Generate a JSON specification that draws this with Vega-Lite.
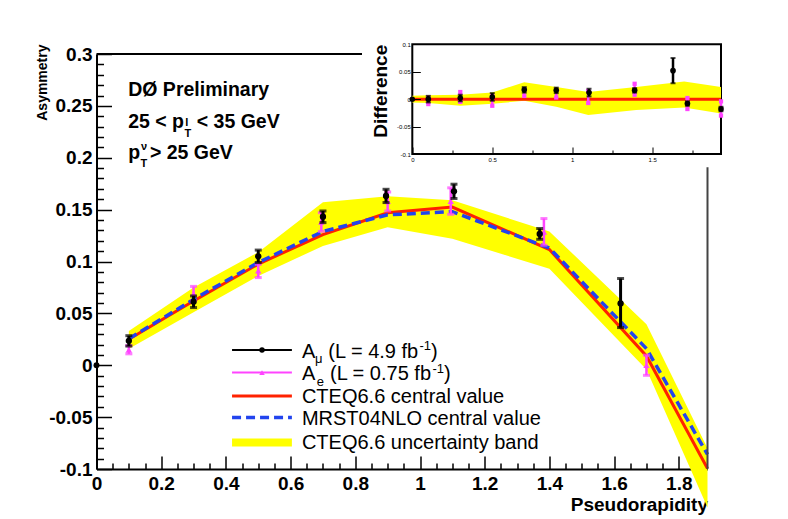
{
  "$schema": "https://vega.github.io/schema/vega-lite/v6.json",
  "background": "white",
  "autosize": "none",
  "padding": {"left": 96.5, "top": 54, "right": 80.5, "bottom": 50},
  "width": 611,
  "height": 415,
  "config": {"view": {"stroke": null}, "font": "Liberation Sans", "axis": {"grid": false}},
  "datasets": {
    "theory": [
      {"x": 0.1, "cteq": 0.025, "mrst": 0.0255, "lo": 0.016, "hi": 0.033},
      {"x": 0.3, "cteq": 0.062, "mrst": 0.0635, "lo": 0.051, "hi": 0.075},
      {"x": 0.5, "cteq": 0.0975, "mrst": 0.099, "lo": 0.086, "hi": 0.109},
      {"x": 0.7, "cteq": 0.126, "mrst": 0.129, "lo": 0.115, "hi": 0.157},
      {"x": 0.9, "cteq": 0.147, "mrst": 0.145, "lo": 0.133, "hi": 0.163},
      {"x": 1.1, "cteq": 0.1525, "mrst": 0.148, "lo": 0.122, "hi": 0.159},
      {"x": 1.4, "cteq": 0.1115, "mrst": 0.113, "lo": 0.093, "hi": 0.129},
      {"x": 1.7, "cteq": 0.009, "mrst": 0.016, "lo": -0.004, "hi": 0.0395},
      {"x": 1.8887, "cteq": -0.0995, "mrst": -0.086, "lo": -0.137, "hi": -0.08}
    ],
    "mu": [
      {"x": 0.1, "y": 0.0235, "lo": 0.0185, "hi": 0.0285},
      {"x": 0.3, "y": 0.0612, "lo": 0.0556, "hi": 0.0668},
      {"x": 0.5, "y": 0.105, "lo": 0.099, "hi": 0.111},
      {"x": 0.7, "y": 0.1431, "lo": 0.1375, "hi": 0.1487},
      {"x": 0.895, "y": 0.1632, "lo": 0.1568, "hi": 0.1696},
      {"x": 1.105, "y": 0.1676, "lo": 0.1607, "hi": 0.1745},
      {"x": 1.37, "y": 0.1266, "lo": 0.1214, "hi": 0.1318},
      {"x": 1.62, "y": 0.0595, "lo": 0.0363, "hi": 0.0836}
    ],
    "e": [
      {"x": 0.1, "y": 0.015, "lo": 0.011, "hi": 0.019},
      {"x": 0.3, "y": 0.069, "lo": 0.062, "hi": 0.076},
      {"x": 0.5, "y": 0.091, "lo": 0.0845, "hi": 0.0973},
      {"x": 0.695, "y": 0.138, "lo": 0.129, "hi": 0.147},
      {"x": 0.9, "y": 0.158, "lo": 0.1487, "hi": 0.167},
      {"x": 1.095, "y": 0.158, "lo": 0.1455, "hi": 0.171},
      {"x": 1.383, "y": 0.1285, "lo": 0.1157, "hi": 0.1414},
      {"x": 1.7, "y": 0.0, "lo": -0.0097, "hi": 0.0097}
    ],
    "dband": [
      {"x": 0, "lo": -0.006, "hi": 0.006},
      {"x": 0.1, "lo": -0.007, "hi": 0.007},
      {"x": 0.3, "lo": -0.012, "hi": 0.008},
      {"x": 0.5, "lo": -0.0085, "hi": 0.012},
      {"x": 0.7, "lo": -0.003, "hi": 0.031},
      {"x": 0.9, "lo": -0.014, "hi": 0.022},
      {"x": 1.1, "lo": -0.029, "hi": 0.013},
      {"x": 1.4, "lo": -0.02, "hi": 0.022},
      {"x": 1.7, "lo": -0.015, "hi": 0.032},
      {"x": 1.93, "lo": -0.026, "hi": 0.022}
    ],
    "dmu": [
      {"x": 0.1, "y": 0.0, "lo": -0.006, "hi": 0.006},
      {"x": 0.3, "y": 0.002, "lo": -0.004, "hi": 0.008},
      {"x": 0.5, "y": 0.004, "lo": -0.003, "hi": 0.011},
      {"x": 0.7, "y": 0.017, "lo": 0.012, "hi": 0.022},
      {"x": 0.9, "y": 0.016, "lo": 0.011, "hi": 0.021},
      {"x": 1.105, "y": 0.012, "lo": 0.005, "hi": 0.019},
      {"x": 1.39, "y": 0.016, "lo": 0.012, "hi": 0.02},
      {"x": 1.63, "y": 0.052, "lo": 0.029, "hi": 0.075},
      {"x": 1.72, "y": -0.008, "lo": -0.012, "hi": -0.004},
      {"x": 1.93, "y": -0.018, "lo": -0.022, "hi": -0.014}
    ],
    "de": [
      {"x": 0.1, "y": -0.003, "lo": -0.009, "hi": 0.003},
      {"x": 0.3, "y": 0.004, "lo": -0.005, "hi": 0.013},
      {"x": 0.5, "y": -0.003, "lo": -0.012, "hi": 0.006},
      {"x": 0.7, "y": 0.012, "lo": 0.006, "hi": 0.018},
      {"x": 0.9, "y": 0.01, "lo": 0.003, "hi": 0.017},
      {"x": 1.1, "y": 0.004, "lo": -0.007, "hi": 0.015},
      {"x": 1.39, "y": 0.018, "lo": 0.008, "hi": 0.028},
      {"x": 1.72, "y": -0.008, "lo": -0.018, "hi": 0.002},
      {"x": 1.93, "y": -0.017, "lo": -0.03, "hi": -0.004}
    ]
  },
  "resolve": {"scale": {"x": "independent", "y": "independent"}, "axis": {"x": "independent", "y": "independent"}},
  "layer": [
    {
      "layer": [
        {
          "data": {"name": "theory"},
          "mark": {"type": "area", "color": "#ffff00", "opacity": 1},
          "encoding": {
            "x": {
              "field": "x", "type": "quantitative",
              "scale": {"domain": [0, 1.8887], "nice": false, "zero": false},
              "axis": {
                "orient": "bottom",
                "title": "Pseudorapidity",
                "titleFont": "Liberation Sans", "titleFontSize": 19, "titleFontWeight": "bold", "titleColor": "black",
                "titleAnchor": "end", "titleAlign": "right", "titlePadding": 2,
                "values": [0, 0.2, 0.4, 0.6, 0.8, 1, 1.2, 1.4, 1.6, 1.8],
                "tickSize": -13, "tickColor": "black", "tickWidth": 1.5,
                "labelExpr": "format(datum.value, '~g')",
                "labelFont": "Liberation Sans", "labelFontSize": 19, "labelFontWeight": "bold", "labelColor": "black",
                "labelPadding": 18, "labelOverlap": false, "labelFlush": false,
                "domainColor": "black", "domainWidth": 2, "grid": false
              }
            },
            "y": {
              "field": "lo", "type": "quantitative",
              "scale": {"domain": [-0.1, 0.3], "nice": false, "zero": false},
              "axis": {
                "orient": "left",
                "title": "Asymmetry",
                "titleFont": "Liberation Sans", "titleFontSize": 14, "titleFontWeight": "bold", "titleColor": "black",
                "titleAngle": -90, "titleAlign": "right", "titleBaseline": "alphabetic",
                "titleX": -50, "titleY": -10,
                "values": [-0.1, -0.05, 0, 0.05, 0.1, 0.15, 0.2, 0.25, 0.3],
                "tickSize": -15, "tickColor": "black", "tickWidth": 1.5,
                "labelExpr": "replace(format(datum.value, '~g'), '\u2212', '-')",
                "labelFont": "Liberation Sans", "labelFontSize": 19, "labelFontWeight": "bold", "labelColor": "black",
                "labelPadding": 19.5, "labelOverlap": false, "labelFlush": false, "labelBaseline": "middle",
                "domainColor": "black", "domainWidth": 2, "grid": false
              }
            },
            "y2": {"field": "hi"}
          }
        },
        {
          "data": {"name": "theory"},
          "mark": {"type": "line", "color": "#ff2200", "strokeWidth": 3},
          "encoding": {"x": {"field": "x", "type": "quantitative"}, "y": {"field": "cteq", "type": "quantitative"}}
        },
        {
          "data": {"name": "theory"},
          "mark": {"type": "line", "color": "#2244ee", "strokeWidth": 3.5, "strokeDash": [9, 5]},
          "encoding": {"x": {"field": "x", "type": "quantitative"}, "y": {"field": "mrst", "type": "quantitative"}}
        },
        {
          "data": {"name": "e"},
          "mark": {"type": "rule", "color": "#ff44ff", "strokeWidth": 2.5},
          "encoding": {"x": {"field": "x", "type": "quantitative"}, "y": {"field": "lo", "type": "quantitative"}, "y2": {"field": "hi"}}
        },
        {
          "data": {"name": "e"},
          "mark": {"type": "tick", "orient": "horizontal", "color": "#ff44ff", "size": 7, "thickness": 3},
          "encoding": {"x": {"field": "x", "type": "quantitative"}, "y": {"field": "lo", "type": "quantitative"}}
        },
        {
          "data": {"name": "e"},
          "mark": {"type": "tick", "orient": "horizontal", "color": "#ff44ff", "size": 7, "thickness": 3},
          "encoding": {"x": {"field": "x", "type": "quantitative"}, "y": {"field": "hi", "type": "quantitative"}}
        },
        {
          "data": {"name": "e"},
          "mark": {"type": "point", "shape": "triangle-up", "filled": true, "color": "#ff44ff", "size": 40, "opacity": 1},
          "encoding": {"x": {"field": "x", "type": "quantitative"}, "y": {"field": "y", "type": "quantitative"}}
        },
        {
          "data": {"name": "mu"},
          "mark": {"type": "rule", "color": "black", "strokeWidth": 3},
          "encoding": {"x": {"field": "x", "type": "quantitative"}, "y": {"field": "lo", "type": "quantitative"}, "y2": {"field": "hi"}}
        },
        {
          "data": {"name": "mu"},
          "mark": {"type": "tick", "orient": "horizontal", "color": "black", "size": 7, "thickness": 3},
          "encoding": {"x": {"field": "x", "type": "quantitative"}, "y": {"field": "lo", "type": "quantitative"}}
        },
        {
          "data": {"name": "mu"},
          "mark": {"type": "tick", "orient": "horizontal", "color": "black", "size": 7, "thickness": 3},
          "encoding": {"x": {"field": "x", "type": "quantitative"}, "y": {"field": "hi", "type": "quantitative"}}
        },
        {
          "data": {"name": "mu"},
          "mark": {"type": "point", "shape": "circle", "filled": true, "color": "black", "size": 40, "opacity": 1},
          "encoding": {"x": {"field": "x", "type": "quantitative"}, "y": {"field": "y", "type": "quantitative"}}
        },
        {
          "data": {"values": [{"x": 0, "y": 0}]},
          "mark": {"type": "point", "shape": "circle", "filled": true, "color": "black", "size": 35, "opacity": 1},
          "encoding": {"x": {"field": "x", "type": "quantitative"}, "y": {"field": "y", "type": "quantitative"}}
        },
        {
          "data": {"values": [{}]},
          "mark": {"type": "rule", "color": "black", "strokeWidth": 2},
          "encoding": {"x": {"datum": 0}, "x2": {"datum": 0.8207}, "y": {"datum": 0.3}}
        },
        {
          "data": {"values": [{}]},
          "mark": {"type": "rule", "color": "#444444", "strokeWidth": 2},
          "encoding": {"x": {"datum": 1.8887}, "y": {"datum": -0.1}, "y2": {"datum": 0.1908}}
        },
        {
          "data": {"values": [{}]},
          "mark": {"type": "text", "text": "DØ Preliminary", "align": "left", "baseline": "alphabetic", "fontSize": 19.5, "fontWeight": "bold", "color": "black"},
          "encoding": {"x": {"datum": 0.098}, "y": {"datum": 0.26}}
        },
        {
          "data": {"values": [{}]},
          "mark": {"type": "text", "text": "25 < p", "align": "left", "baseline": "alphabetic", "fontSize": 19.5, "fontWeight": "bold", "color": "black"},
          "encoding": {"x": {"datum": 0.098}, "y": {"datum": 0.2291}}
        },
        {
          "data": {"values": [{}]},
          "mark": {"type": "text", "text": "T", "align": "left", "baseline": "alphabetic", "fontSize": 11, "fontWeight": "bold", "color": "black"},
          "encoding": {"x": {"datum": 0.272}, "y": {"datum": 0.2204}}
        },
        {
          "data": {"values": [{}]},
          "mark": {"type": "text", "text": "l", "align": "left", "baseline": "alphabetic", "fontSize": 11, "fontWeight": "bold", "color": "black"},
          "encoding": {"x": {"datum": 0.2745}, "y": {"datum": 0.2304}}
        },
        {
          "data": {"values": [{}]},
          "mark": {"type": "text", "text": "< 35 GeV", "align": "left", "baseline": "alphabetic", "fontSize": 19.5, "fontWeight": "bold", "color": "black"},
          "encoding": {"x": {"datum": 0.31}, "y": {"datum": 0.2291}}
        },
        {
          "data": {"values": [{}]},
          "mark": {"type": "text", "text": "p", "align": "left", "baseline": "alphabetic", "fontSize": 19.5, "fontWeight": "bold", "color": "black"},
          "encoding": {"x": {"datum": 0.098}, "y": {"datum": 0.1992}}
        },
        {
          "data": {"values": [{}]},
          "mark": {"type": "text", "text": "T", "align": "left", "baseline": "alphabetic", "fontSize": 11, "fontWeight": "bold", "color": "black"},
          "encoding": {"x": {"datum": 0.136}, "y": {"datum": 0.1908}}
        },
        {
          "data": {"values": [{}]},
          "mark": {"type": "text", "text": "ν", "align": "left", "baseline": "alphabetic", "fontSize": 11, "fontWeight": "bold", "color": "black"},
          "encoding": {"x": {"datum": 0.1376}, "y": {"datum": 0.2072}}
        },
        {
          "data": {"values": [{}]},
          "mark": {"type": "text", "text": "> 25 GeV", "align": "left", "baseline": "alphabetic", "fontSize": 19.5, "fontWeight": "bold", "color": "black"},
          "encoding": {"x": {"datum": 0.165}, "y": {"datum": 0.1992}}
        },
        {
          "data": {"values": [{}]},
          "mark": {"type": "rule", "color": "black", "strokeWidth": 2},
          "encoding": {"x": {"datum": 0.419}, "x2": {"datum": 0.604}, "y": {"datum": 0.01475}}
        },
        {
          "data": {"values": [{}]},
          "mark": {"type": "point", "shape": "circle", "filled": true, "color": "black", "size": 30, "opacity": 1},
          "encoding": {"x": {"datum": 0.5116}, "y": {"datum": 0.01475}}
        },
        {
          "data": {"values": [{}]},
          "mark": {"type": "rule", "color": "#ff44ff", "strokeWidth": 2},
          "encoding": {"x": {"datum": 0.419}, "x2": {"datum": 0.604}, "y": {"datum": -0.00704}}
        },
        {
          "data": {"values": [{}]},
          "mark": {"type": "point", "shape": "triangle-up", "filled": true, "color": "#ff44ff", "size": 30, "opacity": 1},
          "encoding": {"x": {"datum": 0.5116}, "y": {"datum": -0.00704}}
        },
        {
          "data": {"values": [{}]},
          "mark": {"type": "rule", "color": "#ff2200", "strokeWidth": 3},
          "encoding": {"x": {"datum": 0.419}, "x2": {"datum": 0.604}, "y": {"datum": -0.0296}}
        },
        {
          "data": {"values": [{}]},
          "mark": {"type": "rule", "color": "#2244ee", "strokeWidth": 3.5, "strokeDash": [9, 5]},
          "encoding": {"x": {"datum": 0.419}, "x2": {"datum": 0.604}, "y": {"datum": -0.0504}}
        },
        {
          "data": {"values": [{}]},
          "mark": {"type": "rule", "color": "#ffff00", "strokeWidth": 8},
          "encoding": {"x": {"datum": 0.419}, "x2": {"datum": 0.604}, "y": {"datum": -0.0745}}
        },
        {
          "data": {"values": [{}]},
          "mark": {"type": "text", "text": "A", "align": "left", "baseline": "alphabetic", "fontSize": 20, "color": "black"},
          "encoding": {"x": {"datum": 0.635}, "y": {"datum": 0.0074}}
        },
        {
          "data": {"values": [{}]},
          "mark": {"type": "text", "text": "μ", "align": "left", "baseline": "alphabetic", "fontSize": 13, "color": "black"},
          "encoding": {"x": {"datum": 0.6754}, "y": {"datum": 0.002}}
        },
        {
          "data": {"values": [{}]},
          "mark": {"type": "text", "text": "(L = 4.9 fb", "align": "left", "baseline": "alphabetic", "fontSize": 20, "color": "black"},
          "encoding": {"x": {"datum": 0.7166}, "y": {"datum": 0.0074}}
        },
        {
          "data": {"values": [{}]},
          "mark": {"type": "text", "text": "-1", "align": "left", "baseline": "alphabetic", "fontSize": 13, "color": "black"},
          "encoding": {"x": {"datum": 0.9985}, "y": {"datum": 0.0145}}
        },
        {
          "data": {"values": [{}]},
          "mark": {"type": "text", "text": ")", "align": "left", "baseline": "alphabetic", "fontSize": 20, "color": "black"},
          "encoding": {"x": {"datum": 1.034}, "y": {"datum": 0.0074}}
        },
        {
          "data": {"values": [{}]},
          "mark": {"type": "text", "text": "A", "align": "left", "baseline": "alphabetic", "fontSize": 20, "color": "black"},
          "encoding": {"x": {"datum": 0.635}, "y": {"datum": -0.01446}}
        },
        {
          "data": {"values": [{}]},
          "mark": {"type": "text", "text": "e", "align": "left", "baseline": "alphabetic", "fontSize": 13, "color": "black"},
          "encoding": {"x": {"datum": 0.6807}, "y": {"datum": -0.0202}}
        },
        {
          "data": {"values": [{}]},
          "mark": {"type": "text", "text": "(L = 0.75 fb", "align": "left", "baseline": "alphabetic", "fontSize": 20, "color": "black"},
          "encoding": {"x": {"datum": 0.7218}, "y": {"datum": -0.01446}}
        },
        {
          "data": {"values": [{}]},
          "mark": {"type": "text", "text": "-1", "align": "left", "baseline": "alphabetic", "fontSize": 13, "color": "black"},
          "encoding": {"x": {"datum": 1.0386}, "y": {"datum": -0.0077}}
        },
        {
          "data": {"values": [{}]},
          "mark": {"type": "text", "text": ")", "align": "left", "baseline": "alphabetic", "fontSize": 20, "color": "black"},
          "encoding": {"x": {"datum": 1.0745}, "y": {"datum": -0.01446}}
        },
        {
          "data": {"values": [{}]},
          "mark": {"type": "text", "text": "CTEQ6.6 central value", "align": "left", "baseline": "alphabetic", "fontSize": 20, "color": "black"},
          "encoding": {"x": {"datum": 0.635}, "y": {"datum": -0.0366}}
        },
        {
          "data": {"values": [{}]},
          "mark": {"type": "text", "text": "MRST04NLO central value", "align": "left", "baseline": "alphabetic", "fontSize": 20, "color": "black"},
          "encoding": {"x": {"datum": 0.635}, "y": {"datum": -0.0578}}
        },
        {
          "data": {"values": [{}]},
          "mark": {"type": "text", "text": "CTEQ6.6 uncertainty band", "align": "left", "baseline": "alphabetic", "fontSize": 20, "color": "black"},
          "encoding": {"x": {"datum": 0.635}, "y": {"datum": -0.081}}
        }
      ]
    },
    {
      "data": {"values": [{}]},
      "mark": {"type": "point", "opacity": 0},
      "encoding": {
        "x": {
          "datum": 0, "type": "quantitative",
          "scale": {"domain": [0, 1.8887], "nice": false, "zero": false},
          "axis": {
            "orient": "bottom", "title": null,
            "values": [0.05, 0.1, 0.15, 0.25, 0.3, 0.35, 0.45, 0.5, 0.55, 0.65, 0.7, 0.75, 0.85, 0.9, 0.95, 1.05, 1.1, 1.15, 1.25, 1.3, 1.35, 1.45, 1.5, 1.55, 1.65, 1.7, 1.75, 1.85],
            "tickSize": -6, "tickColor": "black", "tickWidth": 1.5,
            "labels": false, "domain": false, "grid": false
          }
        },
        "y": {
          "datum": 0, "type": "quantitative",
          "scale": {"domain": [-0.1, 0.3], "nice": false, "zero": false},
          "axis": {
            "orient": "left", "title": null,
            "values": [-0.09, -0.08, -0.07, -0.06, -0.04, -0.03, -0.02, -0.01, 0.01, 0.02, 0.03, 0.04, 0.06, 0.07, 0.08, 0.09, 0.11, 0.12, 0.13, 0.14, 0.16, 0.17, 0.18, 0.19, 0.21, 0.22, 0.23, 0.24, 0.26, 0.27, 0.28, 0.29],
            "tickSize": -7, "tickColor": "black", "tickWidth": 1.5,
            "labels": false, "domain": false, "grid": false
          }
        }
      }
    },
    {
      "layer": [
        {
          "data": {"values": [{}]},
          "mark": {"type": "rect", "fill": "white", "stroke": "black", "strokeWidth": 2},
          "encoding": {
            "x": {
              "datum": 0, "type": "quantitative",
              "scale": {"domain": [0, 1.93], "range": [315.8, 624.5], "nice": false, "zero": false},
              "axis": {
                "orient": "bottom", "offset": -315, "zindex": 1, "title": null,
                "values": [0, 0.5, 1, 1.5],
                "tickSize": -7, "tickColor": "black", "tickWidth": 1,
                "labelExpr": "format(datum.value, '~g')",
                "labelFont": "Liberation Sans", "labelFontSize": 6, "labelColor": "black",
                "labelPadding": 9, "labelOverlap": false, "labelFlush": false,
                "domain": false, "grid": false
              }
            },
            "x2": {"datum": 1.93},
            "y": {
              "datum": -0.1, "type": "quantitative",
              "scale": {"domain": [-0.1, 0.1], "range": [100, -9.7], "nice": false, "zero": false},
              "axis": {
                "orient": "left", "offset": -315.8, "zindex": 1,
                "title": "Difference",
                "titleFont": "Liberation Sans", "titleFontSize": 19, "titleFontWeight": "bold", "titleColor": "black",
                "titleAnchor": "end", "titlePadding": 6,
                "values": [-0.1, -0.05, 0, 0.05, 0.1],
                "tickSize": -8, "tickColor": "black", "tickWidth": 1,
                "labelExpr": "replace(format(datum.value, '~g'), '\u2212', '-')",
                "labelFont": "Liberation Sans", "labelFontSize": 6, "labelColor": "black",
                "labelPadding": 10, "labelOverlap": false, "labelFlush": false,
                "domain": false, "grid": false
              }
            },
            "y2": {"datum": 0.1}
          }
        },
        {
          "data": {"name": "dband"},
          "mark": {"type": "area", "color": "#ffff00", "opacity": 1},
          "encoding": {"x": {"field": "x", "type": "quantitative"}, "y": {"field": "lo", "type": "quantitative"}, "y2": {"field": "hi"}}
        },
        {
          "data": {"values": [{}]},
          "mark": {"type": "rule", "color": "#ff2200", "strokeWidth": 3},
          "encoding": {"x": {"datum": 0}, "x2": {"datum": 1.93}, "y": {"datum": 0}}
        },
        {
          "data": {"name": "de"},
          "mark": {"type": "rule", "color": "#ff44ff", "strokeWidth": 2.5},
          "encoding": {"x": {"field": "x", "type": "quantitative"}, "y": {"field": "lo", "type": "quantitative"}, "y2": {"field": "hi"}}
        },
        {
          "data": {"name": "de"},
          "mark": {"type": "point", "shape": "square", "filled": true, "color": "#ff44ff", "size": 18, "opacity": 1},
          "encoding": {"x": {"field": "x", "type": "quantitative"}, "y": {"field": "lo", "type": "quantitative"}}
        },
        {
          "data": {"name": "de"},
          "mark": {"type": "point", "shape": "square", "filled": true, "color": "#ff44ff", "size": 18, "opacity": 1},
          "encoding": {"x": {"field": "x", "type": "quantitative"}, "y": {"field": "hi", "type": "quantitative"}}
        },
        {
          "data": {"name": "dmu"},
          "mark": {"type": "rule", "color": "black", "strokeWidth": 2.5},
          "encoding": {"x": {"field": "x", "type": "quantitative"}, "y": {"field": "lo", "type": "quantitative"}, "y2": {"field": "hi"}}
        },
        {
          "data": {"name": "dmu"},
          "mark": {"type": "tick", "orient": "horizontal", "color": "black", "size": 5, "thickness": 2},
          "encoding": {"x": {"field": "x", "type": "quantitative"}, "y": {"field": "lo", "type": "quantitative"}}
        },
        {
          "data": {"name": "dmu"},
          "mark": {"type": "tick", "orient": "horizontal", "color": "black", "size": 5, "thickness": 2},
          "encoding": {"x": {"field": "x", "type": "quantitative"}, "y": {"field": "hi", "type": "quantitative"}}
        },
        {
          "data": {"name": "dmu"},
          "mark": {"type": "point", "shape": "circle", "filled": true, "color": "black", "size": 32, "opacity": 1},
          "encoding": {"x": {"field": "x", "type": "quantitative"}, "y": {"field": "y", "type": "quantitative"}}
        },
        {
          "data": {"values": [{"x": 0, "y": 0}]},
          "mark": {"type": "point", "shape": "circle", "filled": true, "color": "black", "size": 30, "opacity": 1},
          "encoding": {"x": {"field": "x", "type": "quantitative"}, "y": {"field": "y", "type": "quantitative"}}
        }
      ]
    },
    {
      "data": {"values": [{}]},
      "mark": {"type": "point", "opacity": 0},
      "encoding": {
        "x": {
          "datum": 0, "type": "quantitative",
          "scale": {"domain": [0, 1.93], "range": [315.8, 624.5], "nice": false, "zero": false},
          "axis": {
            "orient": "bottom", "offset": -315, "zindex": 1, "title": null,
            "values": [0.25, 0.75, 1.25, 1.75],
            "tickSize": -4, "tickColor": "black", "tickWidth": 1,
            "labels": false, "domain": false, "grid": false
          }
        },
        "y": {
          "datum": 0, "type": "quantitative",
          "scale": {"domain": [-0.1, 0.1], "range": [100, -9.7], "nice": false, "zero": false},
          "axis": null
        }
      }
    }
  ]
}
